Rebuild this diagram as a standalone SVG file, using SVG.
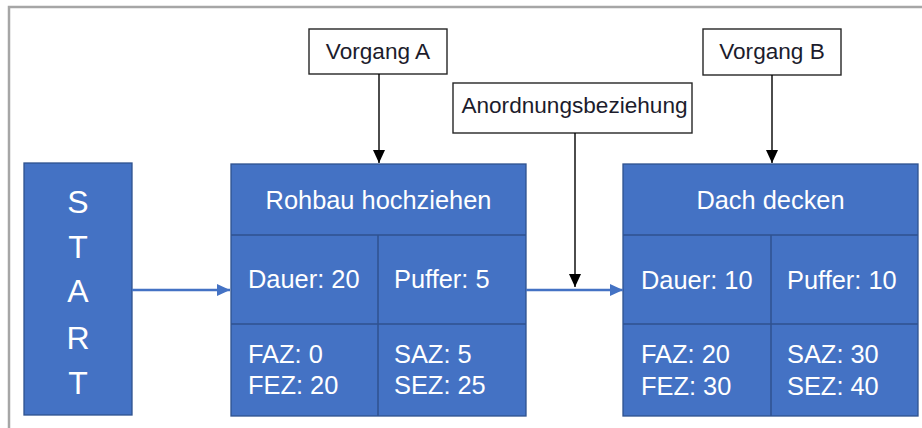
<svg xmlns="http://www.w3.org/2000/svg" width="922" height="428" viewBox="0 0 922 428">
  <style>
    .frame { fill: none; stroke: #a6a6a6; stroke-width: 2.5; }
    .node { fill: #4472c4; stroke: #2f528f; stroke-width: 1.3; }
    .div { stroke: #2f528f; stroke-width: 1.5; }
    .wt { fill: #ffffff; font-family: "Liberation Sans", Arial, sans-serif; font-size: 25.4px; }
    .start { fill: #ffffff; font-family: "Liberation Sans", Arial, sans-serif; font-size: 32px; text-anchor: middle; }
    .lbl { fill: #ffffff; stroke: #262626; stroke-width: 1.4; }
    .lt { fill: #1c1c2c; font-family: "Liberation Sans", Arial, sans-serif; font-size: 22.6px; text-anchor: middle; }
    .flow { stroke: #4472c4; stroke-width: 2.5; fill: none; }
    .ptr { stroke: #000000; stroke-width: 1.4; fill: none; }
  </style>
  <defs>
    <marker id="blueHead" markerUnits="userSpaceOnUse" markerWidth="13" markerHeight="12" refX="13" refY="6" orient="auto">
      <path d="M0,0 L13,6 L0,12 Z" fill="#4472c4"/>
    </marker>
    <marker id="blackHead" markerUnits="userSpaceOnUse" markerWidth="13" markerHeight="12" refX="13" refY="6" orient="auto">
      <path d="M0,0 L13,6 L0,12 Z" fill="#000000"/>
    </marker>
  </defs>

  <rect width="922" height="428" fill="#ffffff"/>
  <!-- outer frame (open at right and bottom) -->
  <path class="frame" d="M9,430 L9,7 L925,7"/>

  <g id="start">
    <rect class="node" x="24" y="163" width="108" height="252"/>
    <text class="start" x="78" y="213">S</text>
    <text class="start" x="78" y="258">T</text>
    <text class="start" x="78" y="302">A</text>
    <text class="start" x="78" y="349">R</text>
    <text class="start" x="78" y="394">T</text>
  </g>

  <g id="vorgang-a-node">
    <rect class="node" x="231" y="164" width="295" height="252"/>
    <line class="div" x1="231" y1="235" x2="526" y2="235"/>
    <line class="div" x1="231" y1="324" x2="526" y2="324"/>
    <line class="div" x1="378" y1="235" x2="378" y2="416"/>
    <text class="wt" x="378.5" y="209" text-anchor="middle">Rohbau hochziehen</text>
    <text class="wt" x="248" y="288">Dauer: 20</text>
    <text class="wt" x="394" y="288">Puffer: 5</text>
    <text class="wt" x="248" y="363">FAZ: 0</text>
    <text class="wt" x="248" y="394">FEZ: 20</text>
    <text class="wt" x="394" y="363">SAZ: 5</text>
    <text class="wt" x="394" y="394">SEZ: 25</text>
  </g>

  <g id="vorgang-b-node">
    <rect class="node" x="623" y="164" width="295" height="252"/>
    <line class="div" x1="623" y1="235" x2="918" y2="235"/>
    <line class="div" x1="623" y1="324" x2="918" y2="324"/>
    <line class="div" x1="771" y1="235" x2="771" y2="416"/>
    <text class="wt" x="770.5" y="209" text-anchor="middle">Dach decken</text>
    <text class="wt" x="641" y="289">Dauer: 10</text>
    <text class="wt" x="787" y="289">Puffer: 10</text>
    <text class="wt" x="641" y="363">FAZ: 20</text>
    <text class="wt" x="641" y="395">FEZ: 30</text>
    <text class="wt" x="787" y="363">SAZ: 30</text>
    <text class="wt" x="787" y="395">SEZ: 40</text>
  </g>

  <g id="label-vorgang-a">
    <rect class="lbl" x="309" y="29" width="138" height="45"/>
    <text class="lt" x="378" y="59">Vorgang A</text>
  </g>

  <g id="label-anordnung">
    <rect class="lbl" x="453" y="83" width="239" height="50"/>
    <text class="lt" x="574.5" y="113">Anordnungsbeziehung</text>
  </g>

  <g id="label-vorgang-b">
    <rect class="lbl" x="703" y="29" width="138" height="46"/>
    <text class="lt" x="772" y="59">Vorgang B</text>
  </g>

  <g id="connectors">
    <line class="flow" x1="132" y1="290" x2="230" y2="290" marker-end="url(#blueHead)"/>
    <line class="flow" x1="526" y1="290" x2="623" y2="290" marker-end="url(#blueHead)"/>
    <line class="ptr" x1="379" y1="74" x2="379" y2="163" marker-end="url(#blackHead)"/>
    <line class="ptr" x1="575" y1="133" x2="575" y2="287" marker-end="url(#blackHead)"/>
    <line class="ptr" x1="772" y1="75" x2="772" y2="163" marker-end="url(#blackHead)"/>
  </g>
</svg>
